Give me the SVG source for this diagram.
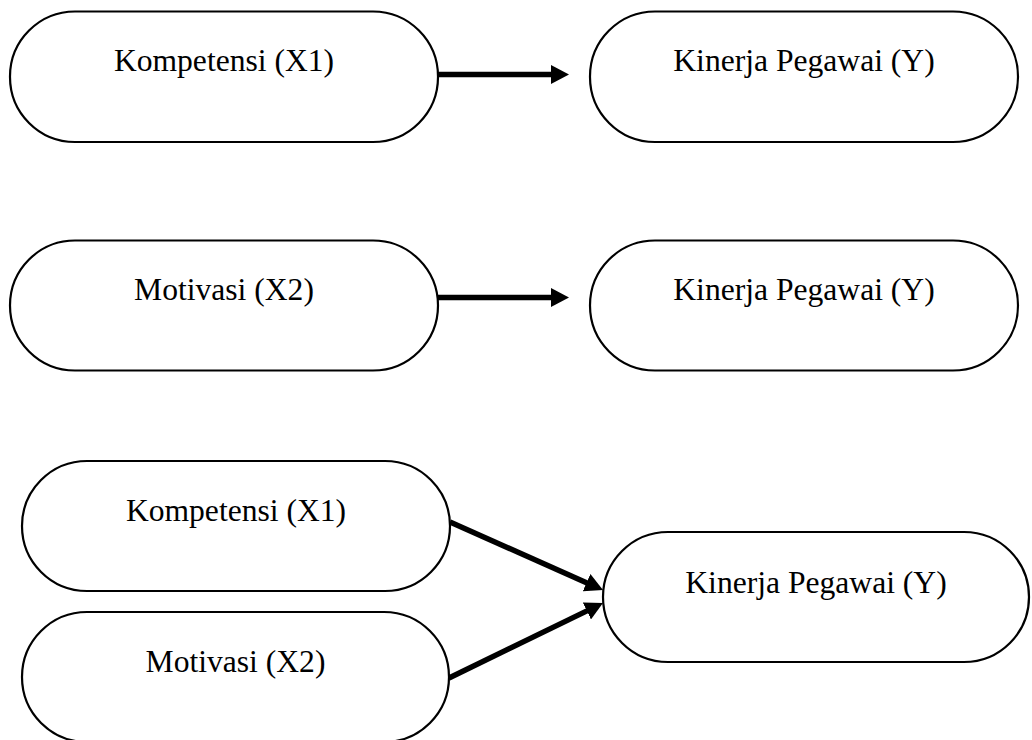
<svg xmlns="http://www.w3.org/2000/svg" width="1032" height="740" viewBox="0 0 1032 740">
<style>
.node{fill:#fff;stroke:#000;stroke-width:2.2}
.lbl{font-family:'Liberation Serif','Times New Roman',serif;font-size:31.6px;fill:#000;text-anchor:middle}
.edge{stroke:#000;stroke-width:5.5;fill:none;marker-end:url(#ah)}
</style>
<defs>
<marker id="ah" markerUnits="userSpaceOnUse" markerWidth="18" markerHeight="19" refX="3" refY="9.5" orient="auto">
<path d="M0,0 L18,9.5 L0,19 Z" fill="#000"/>
</marker>
</defs>
<rect width="1032" height="740" fill="#fff"/>
<g id="connectors">
<line class="edge" x1="438" y1="74.5" x2="554" y2="74.5"/>
<line class="edge" x1="438" y1="297.5" x2="554" y2="297.5"/>
<line class="edge" x1="450" y1="522" x2="589.3" y2="583.9"/>
<line class="edge" x1="449" y1="678" x2="589.5" y2="609.6"/>
</g>
<g id="n1-kompetensi">
<rect class="node" x="10" y="11.5" width="428" height="130.5" rx="65" ry="65"/>
<text class="lbl" x="224" y="71">Kompetensi (X1)</text>
</g>
<g id="n1-kinerja">
<rect class="node" x="590" y="11.5" width="428" height="130.5" rx="65" ry="65"/>
<text class="lbl" x="804" y="71">Kinerja Pegawai (Y)</text>
</g>
<g id="n2-motivasi">
<rect class="node" x="10" y="240.5" width="428" height="130" rx="65" ry="65"/>
<text class="lbl" x="224" y="300">Motivasi (X2)</text>
</g>
<g id="n2-kinerja">
<rect class="node" x="590" y="240.5" width="428" height="130" rx="65" ry="65"/>
<text class="lbl" x="804" y="300">Kinerja Pegawai (Y)</text>
</g>
<g id="n3-kompetensi">
<rect class="node" x="22" y="461" width="428" height="130" rx="65" ry="65"/>
<text class="lbl" x="236" y="521">Kompetensi (X1)</text>
</g>
<g id="n3-motivasi">
<rect class="node" x="22" y="612" width="427" height="130" rx="65" ry="65"/>
<text class="lbl" x="235.5" y="672">Motivasi (X2)</text>
</g>
<g id="n3-kinerja">
<rect class="node" x="603" y="532" width="426" height="130" rx="65" ry="65"/>
<text class="lbl" x="816" y="593">Kinerja Pegawai (Y)</text>
</g>
</svg>
